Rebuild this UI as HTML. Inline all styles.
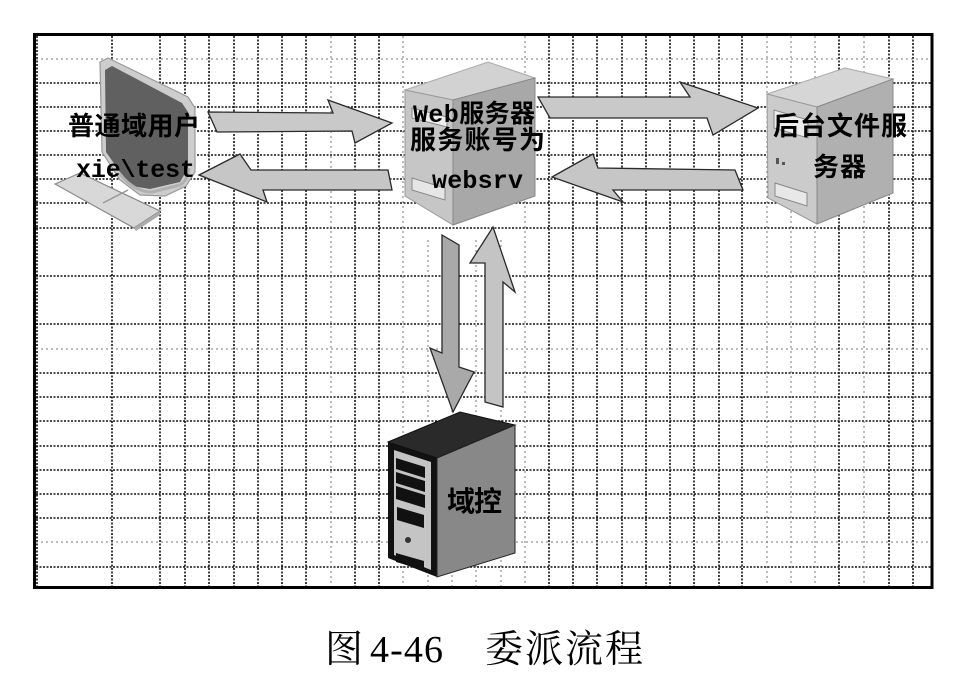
<!DOCTYPE html>
<html><head><meta charset="utf-8"><style>
html,body{margin:0;padding:0;background:#fff;}
svg{display:block;}
</style></head><body>
<svg width="965" height="679" viewBox="0 0 965 679" xmlns="http://www.w3.org/2000/svg">
<rect x="0" y="0" width="965" height="679" fill="#fff"/>
<g stroke="#111" stroke-width="1.6" stroke-dasharray="2 1.5" fill="none">
<line x1="37" y1="36" x2="37" y2="587"/>
<line x1="112" y1="36" x2="112" y2="587"/>
<line x1="160" y1="36" x2="160" y2="587"/>
<line x1="185" y1="36" x2="185" y2="587"/>
<line x1="209" y1="36" x2="209" y2="587"/>
<line x1="234" y1="36" x2="234" y2="587"/>
<line x1="258" y1="36" x2="258" y2="587"/>
<line x1="282" y1="36" x2="282" y2="587"/>
<line x1="306" y1="36" x2="306" y2="587"/>
<line x1="355" y1="36" x2="355" y2="587"/>
<line x1="379" y1="36" x2="379" y2="587"/>
<line x1="549" y1="36" x2="549" y2="587"/>
<line x1="573" y1="36" x2="573" y2="587"/>
<line x1="597" y1="36" x2="597" y2="587"/>
<line x1="622" y1="36" x2="622" y2="587"/>
<line x1="646" y1="36" x2="646" y2="587"/>
<line x1="670" y1="36" x2="670" y2="587"/>
<line x1="694" y1="36" x2="694" y2="587"/>
<line x1="719" y1="36" x2="719" y2="587"/>
<line x1="742" y1="36" x2="742" y2="587"/>
<line x1="839" y1="36" x2="839" y2="587"/>
<line x1="889" y1="36" x2="889" y2="587"/>
<line x1="913" y1="36" x2="913" y2="587"/>
<line x1="36" y1="83" x2="931" y2="83"/>
<line x1="36" y1="107" x2="931" y2="107"/>
<line x1="36" y1="131" x2="931" y2="131"/>
<line x1="36" y1="155" x2="931" y2="155"/>
<line x1="36" y1="179" x2="931" y2="179"/>
<line x1="36" y1="203" x2="931" y2="203"/>
<line x1="36" y1="228" x2="931" y2="228"/>
<line x1="36" y1="276" x2="931" y2="276"/>
<line x1="36" y1="324" x2="931" y2="324"/>
<line x1="36" y1="373" x2="931" y2="373"/>
<line x1="36" y1="397" x2="931" y2="397"/>
<line x1="36" y1="421" x2="931" y2="421"/>
<line x1="36" y1="446" x2="931" y2="446"/>
<line x1="36" y1="470" x2="931" y2="470"/>
<line x1="36" y1="494" x2="931" y2="494"/>
<line x1="36" y1="518" x2="931" y2="518"/>
<line x1="36" y1="567" x2="931" y2="567"/>
</g>
<g stroke="#777" stroke-width="1" stroke-dasharray="2 3" fill="none">
<line x1="331" y1="36" x2="331" y2="587"/>
<line x1="403" y1="36" x2="403" y2="587"/>
<line x1="428" y1="240" x2="428" y2="587"/>
<line x1="452" y1="240" x2="452" y2="587"/>
<line x1="476" y1="240" x2="476" y2="587"/>
<line x1="501" y1="240" x2="501" y2="587"/>
<line x1="525" y1="36" x2="525" y2="587"/>
<line x1="767" y1="36" x2="767" y2="587"/>
<line x1="791" y1="36" x2="791" y2="587"/>
<line x1="815" y1="36" x2="815" y2="587"/>
<line x1="864" y1="36" x2="864" y2="587"/>
<line x1="36" y1="59" x2="931" y2="59"/>
<line x1="36" y1="349" x2="931" y2="349"/>
<line x1="36" y1="542" x2="931" y2="542"/>
</g>
<rect x="34.5" y="34.5" width="897.5" height="553" fill="none" stroke="#000" stroke-width="3"/>
<polygon points="55,184 80,173 160,211 134,228" fill="#d8d8d8" stroke="#888" stroke-width="1.2"/>
<line x1="103" y1="203" x2="128" y2="190" stroke="#999" stroke-width="1.5"/>
<polygon points="134,228 160,211 160,215 136,231" fill="#aaa"/>
<polygon points="100,62 108,58 188,97 195,108 195,172 186,186 165,196 140,195 120,180 102,152" fill="#cdcdcd" stroke="#999" stroke-width="1.2"/>
<polygon points="105,70 112,66 182,103 188,112 188,168 180,182 150,189 132,186 120,172 106,152" fill="#606060"/>
<path d="M120,174 Q134,192 152,192 L180,185 Q188,180 189,168" fill="none" stroke="#b0b0b0" stroke-width="3"/>
<polygon points="405,90 488,62 535,78 453,100" fill="#d2d2d2" stroke="#aaa" stroke-width="1"/>
<polygon points="405,90 453,100 453,225 405,196" fill="#c6c6c6" stroke="#999" stroke-width="1"/>
<polygon points="453,100 535,78 535,196 453,225" fill="#a8a8a8" stroke="#888" stroke-width="1"/>
<polygon points="412,108 447,117 447,127 412,118" fill="#eee" stroke="#888"/>
<polygon points="412,178 445,188 445,200 412,190" fill="#e6e6e6" stroke="#888"/>
<polygon points="767,94 845,68 893,79 817,107" fill="#d6d6d6" stroke="#aaa" stroke-width="1"/>
<polygon points="767,94 817,107 817,224 768,198" fill="#cbcbcb" stroke="#999" stroke-width="1"/>
<polygon points="817,107 893,79 893,193 817,224" fill="#b0b0b0" stroke="#888" stroke-width="1"/>
<polygon points="774,110 808,120 808,138 774,128" fill="#eee" stroke="#888"/>
<polygon points="775,183 807,193 807,206 775,196" fill="#e8e8e8" stroke="#888"/>
<rect x="776" y="158" width="3" height="6" fill="#555"/>
<rect x="782" y="162" width="3" height="3" fill="#555"/>
<polygon points="388,442 460,412 515,425 437,458" fill="#2a2a2a" stroke="#111" stroke-width="1"/>
<polygon points="388,442 437,458 437,577 388,558" fill="#111"/>
<polygon points="394,450 431,462 431,570 394,555" fill="#c4c4c4"/>
<polygon points="396,458 425,467 425,478 396,469" fill="#111"/>
<polygon points="396,472 425,481 425,492 396,483" fill="#111"/>
<polygon points="396,486 425,495 425,508 396,499" fill="#111"/>
<polygon points="397,507 424,515 424,528 397,520" fill="#111"/>
<circle cx="408" cy="540" r="3" fill="#333"/>
<polygon points="396,553 424,561 424,570 396,562" fill="#111"/>
<polygon points="437,458 515,425 515,553 437,577" fill="#888" stroke="#222" stroke-width="1"/>
<g stroke="#2a2a2a" stroke-width="1.3">
<polygon points="208,112 333,113 328,100 392,123 355,143 352,131 217,132" fill="#c9c9c9"/>
<polygon points="199,175 240,154 251,170 388,170 392,190 263,190 267,202" fill="#c6c6c6"/>
<polygon points="538,97 690,97 680,82 758,108 713,135 707,118 550,118" fill="#c9c9c9"/>
<polygon points="552,177 593,154 598,168 735,170 743,190 613,190 623,202" fill="#c6c6c6"/>
<polygon points="442,235 459,245 459,367 474,372 453,412 430,348 442,353" fill="#a9a9a9"/>
<polygon points="493,227 515,292 503,282 503,407 485,402 485,263 470,263" fill="#c4c4c4"/>
</g>
<g fill="#000" font-family="'Noto Sans CJK SC', 'WenQuanYi Zen Hei', sans-serif" font-weight="600">
<text x="68" y="135" font-size="26" textLength="132" lengthAdjust="spacing">普通域用户</text>
<text x="76" y="177" font-size="25" font-family="'Liberation Mono', monospace" font-weight="bold" textLength="119" lengthAdjust="spacing">xie\test</text>
<text x="413" y="122" font-size="25" textLength="122" lengthAdjust="spacing"><tspan font-family="'Liberation Mono', monospace" font-weight="bold">Web</tspan>服务器</text>
<text x="410" y="149" font-size="26" textLength="135" lengthAdjust="spacing">服务账号为</text>
<text x="432" y="188" font-size="25" font-family="'Liberation Mono', monospace" font-weight="bold" textLength="91" lengthAdjust="spacing">websrv</text>
<text x="773" y="135" font-size="26" textLength="134" lengthAdjust="spacing">后台文件服</text>
<text x="813" y="176" font-size="26" textLength="53" lengthAdjust="spacing">务器</text>
<text x="447" y="511" font-size="28" textLength="55" lengthAdjust="spacing">域控</text>
</g>
<g fill="#000" font-family="'Liberation Serif', 'Noto Serif CJK SC', serif" font-size="38">
<text x="325" y="662">图</text>
<text x="370" y="662" textLength="73" lengthAdjust="spacing">4-46</text>
<text x="485" y="662" textLength="158" lengthAdjust="spacing">委派流程</text>
</g>
</svg>
</body></html>
